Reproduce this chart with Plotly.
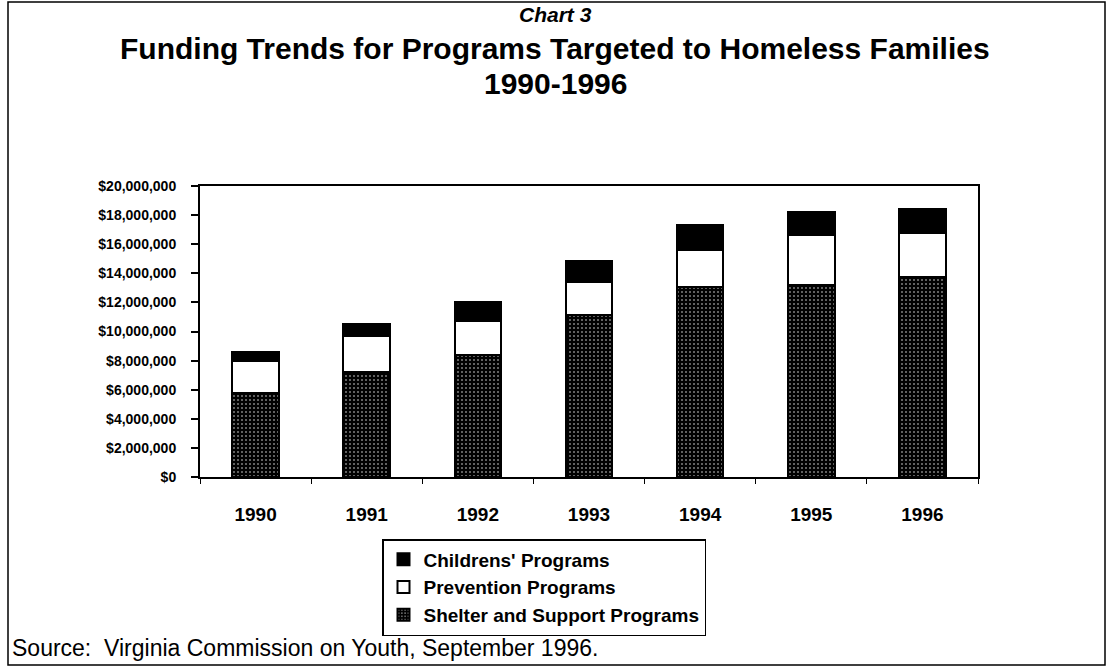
import plotly.graph_objects as go

years = ["1990", "1991", "1992", "1993", "1994", "1995", "1996"]
shelter = [5770000, 7240000, 8380000, 11110000, 13070000, 13170000, 13760000]
prevention = [2170000, 2420000, 2310000, 2320000, 2530000, 3430000, 3000000]
childrens = [620000, 830000, 1350000, 1410000, 1720000, 1610000, 1640000]
y_ticks = [0, 2000000, 4000000, 6000000, 8000000, 10000000, 12000000, 14000000, 16000000, 18000000, 20000000]
y_labels = ["$0", "$2,000,000", "$4,000,000", "$6,000,000", "$8,000,000", "$10,000,000",
            "$12,000,000", "$14,000,000", "$16,000,000", "$18,000,000", "$20,000,000"]

W, H = 1110, 670
L, R, T, B = 200, 978, 186, 477  # plot area in pixels


def px(x):
    return (x - L) / (R - L)


def py(y):
    return (B - y) / (B - T)


FONT = "Liberation Sans, Arial, sans-serif"

fig = go.Figure()
fig.add_trace(go.Bar(
    x=years, y=shelter, name="Shelter and Support Programs",
    marker=dict(color="black", line=dict(color="black", width=2),
                pattern=dict(shape=".", bgcolor="black", fgcolor="white", size=4, solidity=0.2)),
))
fig.add_trace(go.Bar(
    x=years, y=prevention, name="Prevention Programs",
    marker=dict(color="white", line=dict(color="black", width=2)),
))
fig.add_trace(go.Bar(
    x=years, y=childrens, name="Childrens' Programs",
    marker=dict(color="black", line=dict(color="black", width=2)),
))

fig.update_layout(
    width=W, height=H,
    margin=dict(l=L, r=W - R, t=T, b=H - B),
    barmode="stack", bargap=0.58,
    paper_bgcolor="white", plot_bgcolor="white",
    font=dict(family=FONT, color="black"),
    showlegend=True,
    legend=dict(
        x=px(382), y=py(539), xanchor="left", yanchor="top",
        traceorder="reversed", bordercolor="black", borderwidth=1.5,
        bgcolor="white", font=dict(family=FONT, size=19, color="black", weight="bold"),
        itemwidth=30, tracegroupgap=0,
    ),
)

fig.update_yaxes(
    range=[0, 20000000], tickvals=y_ticks, ticktext=y_labels,
    showgrid=False, zeroline=False,
    showline=True, linecolor="black", linewidth=2, mirror=True,
    ticks="outside", ticklen=7, tickwidth=2, tickcolor="black",
    ticklabelstandoff=12,
    tickfont=dict(family=FONT, size=14, color="black", weight="bold"),
)
fig.update_xaxes(
    showgrid=False, showline=True, linecolor="black", linewidth=2, mirror=True,
    ticks="outside", tickson="boundaries", ticklen=5, tickwidth=1, tickcolor="black",
    ticklabelstandoff=19,
    tickfont=dict(family=FONT, size=19, color="black", weight="bold"),
)

annotations = [
    dict(text="<b><i>Chart 3</i></b>", x=px(555), y=py(14), size=21),
    dict(text="<b>Funding Trends for Programs Targeted to Homeless Families</b>",
         x=px(555), y=py(49), size=30),
    dict(text="<b>1990-1996</b>", x=px(555), y=py(84), size=30),
]
for a in annotations:
    fig.add_annotation(xref="paper", yref="paper", showarrow=False,
                       xanchor="center", yanchor="middle",
                       font=dict(family=FONT, color="black", size=a["size"]),
                       text=a["text"], x=a["x"], y=a["y"])

fig.add_annotation(xref="paper", yref="paper", showarrow=False,
                   xanchor="left", yanchor="middle", x=px(10), y=py(648),
                   text="Source:  Virginia Commission on Youth, September 1996.",
                   font=dict(family=FONT, size=23, color="black"))

fig.add_shape(type="rect", xref="paper", yref="paper",
              x0=px(8), x1=px(1105), y0=py(665), y1=py(2),
              line=dict(color="black", width=1.5), fillcolor="rgba(0,0,0,0)", layer="below")

fig.write_html("out.html")
